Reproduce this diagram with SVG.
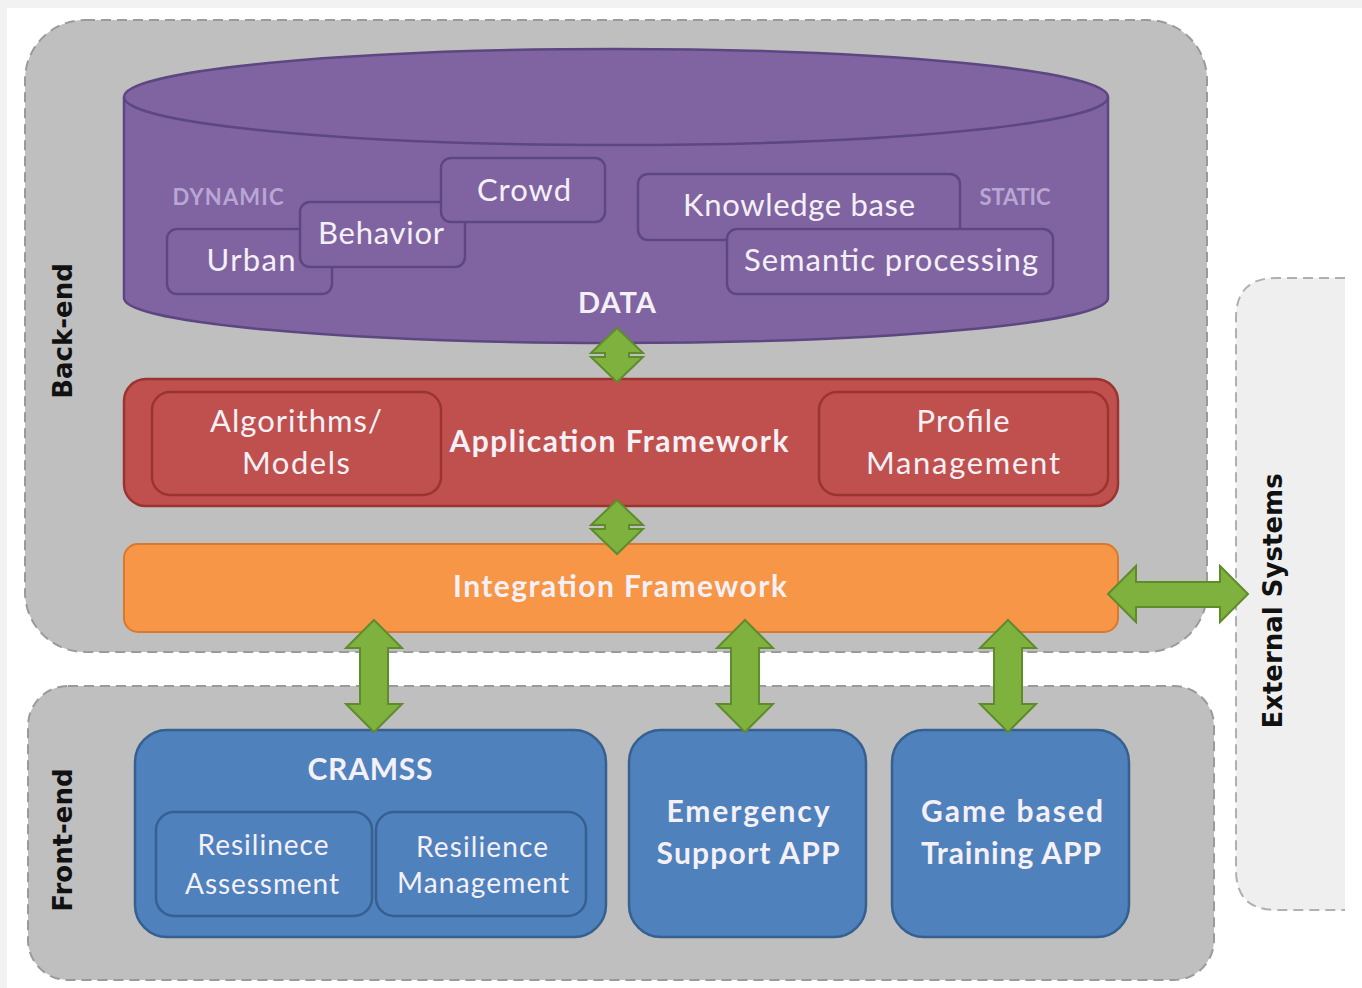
<svg xmlns="http://www.w3.org/2000/svg" width="1362" height="988" viewBox="0 0 1362 988">
<style>
.cont{fill:#bfbfbf;stroke:#9a9a9a;stroke-width:2;stroke-dasharray:10 6}
.ext{fill:#efefef;stroke:#b0b0b0;stroke-width:2;stroke-dasharray:10 6}
.purp{fill:#8064a2;stroke:#5c4780;stroke-width:2.5}
.pbox{fill:#8064a2;stroke:#5c4780;stroke-width:2.5}
.red{fill:#c0504d;stroke:#9b3431;stroke-width:2.5}
.orange{fill:#f79646;stroke:#d9782f;stroke-width:2}
.blue{fill:#4f81bd;stroke:#36608f;stroke-width:2.5}
.arr{fill:#7fb13f;stroke:#5f8c2b;stroke-width:2}
.t{font-family:Lato,"Open Sans",sans-serif;fill:#f4f0f6;text-anchor:middle}
.b{font-weight:bold}
.side{font-family:"DejaVu Sans",sans-serif;font-weight:bold;font-size:26px;fill:#111;text-anchor:middle}
.tag{font-family:Lato,sans-serif;font-weight:bold;font-size:22px;fill:#b8a7d3;text-anchor:middle}
</style>
<rect width="1362" height="988" fill="#ffffff"/>
<rect x="0" y="0" width="1362" height="8" fill="#f2f2f2"/>
<rect x="0" y="0" width="7" height="988" fill="#f2f2f2"/>

<g id="backend">
<rect class="cont" x="25" y="20" width="1182" height="632" rx="60"/>
<text class="side" transform="translate(72,331) rotate(-90)">Back-end</text>
</g>
<g id="frontend">
<rect class="cont" x="28" y="686" width="1186" height="294" rx="40"/>
<text class="side" transform="translate(72,840) rotate(-90)">Front-end</text>
</g>
<g id="external">
<path class="ext" d="M1345,278 L1276,278 Q1236,278 1236,318 L1236,870 Q1236,910 1276,910 L1345,910"/>
<text class="side" transform="translate(1282,601) rotate(-90)" font-size="25">External Systems</text>
</g>

<g id="data">
<path class="purp" d="M124,97 L124,298 A492,45 0 0 0 1108,298 L1108,97"/>
<ellipse class="purp" cx="616" cy="97" rx="492" ry="48"/>
<text class="tag" x="228" y="205" textLength="111">DYNAMIC</text>
<text class="tag" x="1015" y="205" textLength="71">STATIC</text>
<text class="t b" x="617" y="313" font-size="29" textLength="78">DATA</text>
</g>
<g id="urban">
<rect class="pbox" x="167" y="229" width="165" height="65" rx="10"/>
<text class="t" x="251" y="271" font-size="31" textLength="89">Urban</text>
</g>
<g id="behavior">
<rect class="pbox" x="300" y="202" width="165" height="65" rx="10"/>
<text class="t" x="381" y="244" font-size="31" textLength="126">Behavior</text>
</g>
<g id="crowd">
<rect class="pbox" x="441" y="158" width="164" height="64" rx="10"/>
<text class="t" x="524" y="201" font-size="31" textLength="94">Crowd</text>
</g>
<g id="knowledge">
<rect class="pbox" x="638" y="174" width="322" height="66" rx="10"/>
<text class="t" x="799" y="216" font-size="31" textLength="232">Knowledge base</text>
</g>
<g id="semantic">
<rect class="pbox" x="727" y="229" width="326" height="65" rx="10"/>
<text class="t" x="891" y="271" font-size="31" textLength="294">Semantic processing</text>
</g>

<g id="appfw">
<rect class="red" x="124" y="379" width="994" height="127" rx="22"/>
<text class="t b" x="619" y="452" font-size="30" textLength="339">Application Framework</text>
</g>
<g id="algorithms">
<rect class="red" x="152" y="392" width="289" height="103" rx="18"/>
<text class="t" x="296" y="432" font-size="31" textLength="172">Algorithms/</text>
<text class="t" x="296" y="474" font-size="31" textLength="108">Models</text>
</g>
<g id="profile">
<rect class="red" x="819" y="392" width="289" height="103" rx="18"/>
<text class="t" x="963" y="432" font-size="31" textLength="93">Profile</text>
<text class="t" x="963" y="474" font-size="31" textLength="194">Management</text>
</g>

<g id="intfw">
<rect class="orange" x="124" y="544" width="994" height="88" rx="14"/>
<text class="t b" x="620" y="597" font-size="30" textLength="334">Integration Framework</text>
</g>

<g id="cramss">
<rect class="blue" x="135" y="730" width="471" height="207" rx="32"/>
<text class="t b" x="370" y="780" font-size="30" textLength="125">CRAMSS</text>
</g>
<g id="resassess">
<rect class="blue" x="156" y="812" width="216" height="104" rx="18"/>
<text class="t" x="263" y="855" font-size="28" textLength="131">Resilinece</text>
<text class="t" x="262" y="894" font-size="28" textLength="154">Assessment</text>
</g>
<g id="resmgmt">
<rect class="blue" x="376" y="812" width="210" height="104" rx="18"/>
<text class="t" x="482" y="857" font-size="28" textLength="132">Resilience</text>
<text class="t" x="483" y="893" font-size="28" textLength="172">Management</text>
</g>
<g id="emergency">
<rect class="blue" x="629" y="730" width="237" height="207" rx="32"/>
<text class="t b" x="748" y="822" font-size="30" textLength="163">Emergency</text>
<text class="t b" x="748" y="864" font-size="30" textLength="183">Support APP</text>
</g>
<g id="game">
<rect class="blue" x="892" y="730" width="237" height="207" rx="32"/>
<text class="t b" x="1012" y="822" font-size="30" textLength="182">Game based</text>
<text class="t b" x="1011" y="864" font-size="30" textLength="180">Training APP</text>
</g>

<g id="connectors">
<polygon class="arr" points="617,328 643,353 629,353 629,357 643,357 617,382 591,357 605,357 605,353 591,353"/>
<polygon class="arr" points="617,500 643,525 629,525 629,529 643,529 617,554 591,529 605,529 605,525 591,525"/>
<polygon class="arr" points="374,620 402,648 388,648 388,704 402,704 374,732 346,704 360,704 360,648 346,648"/>
<polygon class="arr" points="745,620 773,648 759,648 759,704 773,704 745,732 717,704 731,704 731,648 717,648"/>
<polygon class="arr" points="1008,620 1036,648 1022,648 1022,704 1036,704 1008,732 980,704 994,704 994,648 980,648"/>
<polygon class="arr" points="1108,594 1136,566 1136,582 1220,582 1220,566 1248,594 1220,622 1220,607 1136,607 1136,622"/>
</g>
</svg>
